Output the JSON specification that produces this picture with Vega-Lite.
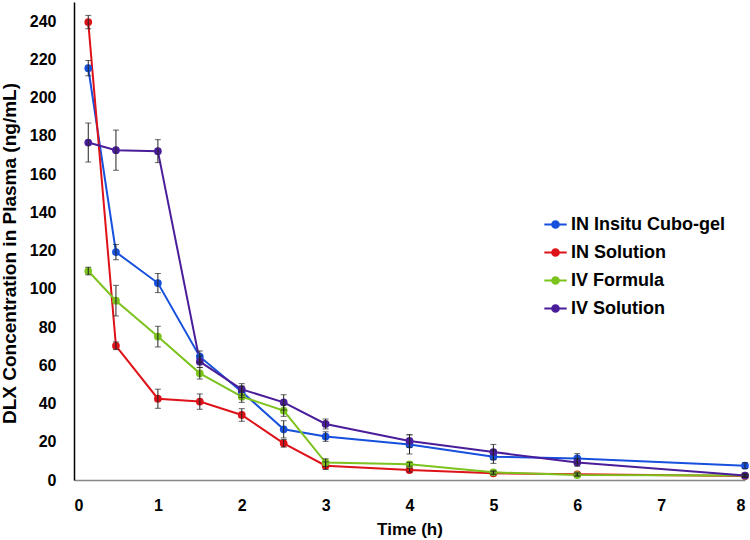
{
  "$schema": "https://vega.github.io/schema/vega-lite/v6.json",
  "autosize": {"type": "none"},
  "width": 671,
  "height": 478,
  "padding": {"left": 74, "top": 2, "right": 5, "bottom": 60},
  "background": "white",
  "config": {
    "view": {"stroke": null},
    "font": "Liberation Sans",
    "axis": {"grid": false, "ticks": false, "labelFont": "Liberation Sans", "labelFontWeight": "bold", "labelFontSize": 16, "labelColor": "#000", "titleFont": "Liberation Sans", "titleFontWeight": "bold", "titleColor": "#000"}
  },
  "data": {"values": [
    {"t": 0.17, "g": "IN Insitu Cubo-gel", "c": 215.4, "sd": 4},
    {"t": 0.5, "g": "IN Insitu Cubo-gel", "c": 119.2, "sd": 4},
    {"t": 1, "g": "IN Insitu Cubo-gel", "c": 103, "sd": 5},
    {"t": 1.5, "g": "IN Insitu Cubo-gel", "c": 64.5, "sd": 3},
    {"t": 2, "g": "IN Insitu Cubo-gel", "c": 46.2, "sd": 3},
    {"t": 2.5, "g": "IN Insitu Cubo-gel", "c": 26.5, "sd": 4.5},
    {"t": 3, "g": "IN Insitu Cubo-gel", "c": 22.7, "sd": 2.5},
    {"t": 4, "g": "IN Insitu Cubo-gel", "c": 18.6, "sd": 5},
    {"t": 5, "g": "IN Insitu Cubo-gel", "c": 12.2, "sd": 3.5},
    {"t": 6, "g": "IN Insitu Cubo-gel", "c": 11.3, "sd": 2.5},
    {"t": 8, "g": "IN Insitu Cubo-gel", "c": 7.5, "sd": 1.5},
    {"t": 0.17, "g": "IN Solution", "c": 239.5, "sd": 3.5},
    {"t": 0.5, "g": "IN Solution", "c": 70.2, "sd": 2},
    {"t": 1, "g": "IN Solution", "c": 42.5, "sd": 5},
    {"t": 1.5, "g": "IN Solution", "c": 41, "sd": 4},
    {"t": 2, "g": "IN Solution", "c": 34, "sd": 3.3},
    {"t": 2.5, "g": "IN Solution", "c": 19.2, "sd": 2},
    {"t": 3, "g": "IN Solution", "c": 7.5, "sd": 2},
    {"t": 4, "g": "IN Solution", "c": 5.2, "sd": 1},
    {"t": 5, "g": "IN Solution", "c": 3.5, "sd": 0.8},
    {"t": 6, "g": "IN Solution", "c": 3, "sd": 0.8},
    {"t": 8, "g": "IN Solution", "c": 2.1, "sd": 0.5},
    {"t": 0.17, "g": "IV Formula", "c": 109.3, "sd": 2},
    {"t": 0.5, "g": "IV Formula", "c": 93.8, "sd": 8},
    {"t": 1, "g": "IV Formula", "c": 75, "sd": 5.4},
    {"t": 1.5, "g": "IV Formula", "c": 55.8, "sd": 3},
    {"t": 2, "g": "IV Formula", "c": 43.6, "sd": 3},
    {"t": 2.5, "g": "IV Formula", "c": 36.3, "sd": 3},
    {"t": 3, "g": "IV Formula", "c": 9.1, "sd": 2},
    {"t": 4, "g": "IV Formula", "c": 8.2, "sd": 1},
    {"t": 5, "g": "IV Formula", "c": 4, "sd": 0.8},
    {"t": 6, "g": "IV Formula", "c": 2.6, "sd": 0.6},
    {"t": 8, "g": "IV Formula", "c": 2.3, "sd": 0.5},
    {"t": 0.17, "g": "IV Solution", "c": 176.5, "sd": 10.2},
    {"t": 0.5, "g": "IV Solution", "c": 172.5, "sd": 10.5},
    {"t": 1, "g": "IV Solution", "c": 172, "sd": 6},
    {"t": 1.5, "g": "IV Solution", "c": 61.9, "sd": 3},
    {"t": 2, "g": "IV Solution", "c": 47.4, "sd": 3},
    {"t": 2.5, "g": "IV Solution", "c": 40.6, "sd": 4},
    {"t": 3, "g": "IV Solution", "c": 29.3, "sd": 2.6},
    {"t": 4, "g": "IV Solution", "c": 20.4, "sd": 3.3},
    {"t": 5, "g": "IV Solution", "c": 14.6, "sd": 4},
    {"t": 6, "g": "IV Solution", "c": 9.2, "sd": 2},
    {"t": 8, "g": "IV Solution", "c": 2.3, "sd": 1}
  ]},
  "encoding": {
    "x": {"field": "t", "type": "quantitative", "scale": {"domain": [0, 8], "nice": false},
      "axis": {"title": "Time (h)", "titleFontSize": 17, "values": [0,1,2,3,4,5,6,7,8], "labelPadding": 17, "labelBaseline": "top", "titlePadding": 8, "domainColor": "#888", "domainWidth": 1.5}},
    "y": {"field": "c", "type": "quantitative", "scale": {"domain": [0, 250], "nice": false},
      "axis": {"title": "DLX  Concentration in Plasma (ng/mL)", "titleFontSize": 19, "titleY": 251, "values": [0,20,40,60,80,100,120,140,160,180,200,220,240], "labelPadding": 18, "titlePadding": 10, "domainColor": "#000", "domainWidth": 1.5}}
  },
  "layer": [
    {
      "mark": {"type": "line", "strokeWidth": 2, "point": {"filled": true, "size": 60, "opacity": 1}},
      "encoding": {
        "color": {"field": "g", "type": "nominal",
          "scale": {"domain": ["IN Insitu Cubo-gel", "IN Solution", "IV Formula", "IV Solution"], "range": ["#1650dc", "#de1219", "#7cc31d", "#4a1d9a"]},
          "legend": {"title": null, "orient": "none", "legendX": 469, "legendY": 210,
            "labelFont": "Liberation Sans", "labelFontWeight": "bold", "labelFontSize": 18, "labelColor": "#000",
            "symbolType": "M -1 0 L -0.3 0 M 0.3 0 L 1 0 M 0.3 0 A 0.3 0.3 0 1 0 -0.3 0 A 0.3 0.3 0 1 0 0.3 0",
            "symbolSize": 500, "symbolStrokeWidth": 2, "rowPadding": 6, "labelOffset": 3}}
      }
    },
    {
      "mark": {"type": "errorbar", "ticks": {"size": 6, "color": "#222"}, "rule": {"color": "#222", "strokeWidth": 1}},
      "encoding": {
        "x": {"field": "t", "type": "quantitative"},
        "y": {"field": "c", "type": "quantitative"},
        "yError": {"field": "sd"},
        "detail": {"field": "g"}
      }
    }
  ]
}
